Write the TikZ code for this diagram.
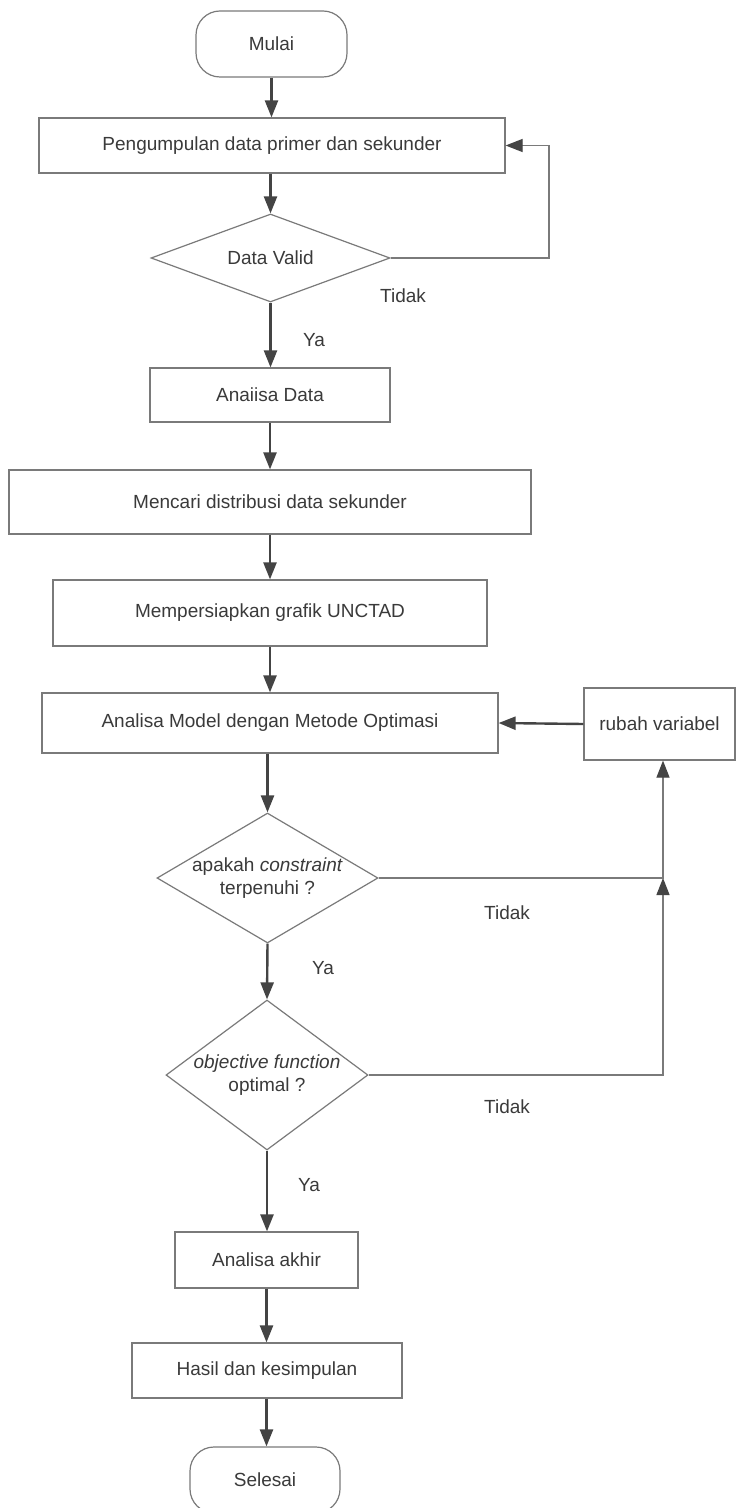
\documentclass[tikz,border=0pt]{standalone}
\usepackage{fontspec}
\setmainfont{Liberation Sans}
\usetikzlibrary{shapes.geometric,arrows.meta}
\definecolor{edge}{HTML}{7A7A7A}
\definecolor{ink}{HTML}{3A3A3A}
\definecolor{arr}{HTML}{444444}
\begin{document}
\begin{tikzpicture}[x=0.5pt,y=-0.5pt,
  font=\fontsize{9.5}{11.5}\selectfont,
  box/.style={draw=edge, line width=0.6pt, rectangle, inner sep=0pt, text=ink, align=center},
  term/.style={box, rounded corners=12pt},
  dec/.style={draw=edge, line width=0.6pt, diamond, inner sep=0pt, text=ink, align=center},
  flow/.style={draw=arr, line width=1.2pt, -{Triangle[length=8.5pt,width=6.5pt]}},
  thinflow/.style={draw=edge, line width=0.6pt, arrows={-{Triangle[length=8.5pt,width=6.5pt,color=arr]}}},
  lbl/.style={text=ink, inner sep=0pt}]
\fill[white] (0,0) rectangle (737,1508);
\useasboundingbox (0,0) rectangle (737,1508);

\node[term, minimum width=75.5pt, minimum height=33pt] (start) at (271.5,44) {Mulai};
\node[box, minimum width=233pt, minimum height=27.5pt] (b1) at (272,145.5) {Pengumpulan data primer dan sekunder};
\node[dec, minimum width=119.5pt, minimum height=44pt, aspect=2.7] (d1) at (270.5,258) {Data Valid};
\node[box, minimum width=120pt, minimum height=27pt] (b2) at (270,395) {Anaiisa Data};
\node[box, minimum width=261pt, minimum height=32pt] (b3) at (270,502) {Mencari distribusi data sekunder};
\node[box, minimum width=217pt, minimum height=33pt] (b4) at (270,613) {Mempersiapkan grafik UNCTAD};
\node[box, minimum width=228pt, minimum height=30pt] (b5) at (270,723) {Analisa Model dengan Metode Optimasi};
\node[box, minimum width=75.5pt, minimum height=36pt] (rv) at (659.5,724) {rubah variabel};
\node[dec, minimum width=110.5pt, minimum height=65pt, aspect=1.7] (d2) at (267.5,878) {apakah \textit{constraint}\\terpenuhi ?};
\node[dec, minimum width=101pt, minimum height=75pt, aspect=1.35] (d3) at (267,1075) {\textit{objective function}\\optimal ?};
\node[box, minimum width=91.5pt, minimum height=28pt] (b6) at (266.5,1260) {Analisa akhir};
\node[box, minimum width=135pt, minimum height=27.5pt] (b7) at (267,1370.5) {Hasil dan kesimpulan};
\node[term, minimum width=75pt, minimum height=33pt] (end) at (265,1480) {Selesai};

\node[lbl] (t1) at (403,296) {Tidak};
\node[lbl] (ya1) at (314,340) {Ya};
\node[lbl] (t2) at (507,913) {Tidak};
\node[lbl] (ya2) at (323,968) {Ya};
\node[lbl] (t3) at (507,1107) {Tidak};
\node[lbl] (ya3) at (309,1185) {Ya};

\draw[flow] (start) -- (start |- b1.north);
\draw[flow] (d1.north |- b1.south) -- (d1.north);
\draw[flow] (d1.south) -- (d1.south |- b2.north);
\draw[flow] (b2.south) -- (b2.south |- b3.north);
\draw[flow] (b2.south |- b3.south) -- (b2.south |- b4.north);
\draw[flow] (b2.south |- b4.south) -- (b2.south |- b5.north);
\draw[flow] (d2.north |- b5.south) -- (d2.north);
\draw[flow] (d2.south) -- (d3.north);
\draw[flow] (d3.south) -- (d3.south |- b6.north);
\draw[flow] (b6.south) -- (b6.south |- b7.north);
\draw[flow] (b6.south |- b7.south) -- (b6.south |- end.north);
\draw[flow] (rv.west) -- (b5.east);

\coordinate (l1) at (549,258);
\coordinate (l2) at (549,145.5);
\draw[thinflow] (d1.east) -- (l1) -- (l2) -- (b1.east);

\coordinate (j) at (663,878);
\coordinate (k) at (663,1075);
\draw[thinflow] (d3.east) -- (k) -- (j);
\draw[thinflow] (d2.east) -- (j) -- (j |- rv.south);
\end{tikzpicture}
\end{document}
